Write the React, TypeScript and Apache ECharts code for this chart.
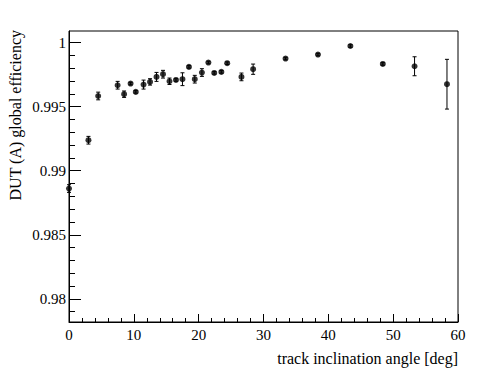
import React, { useEffect, useRef } from "react";
import * as echarts from "echarts";

const angles = [0, 3.0, 4.5, 7.5, 8.5, 9.5, 10.3, 11.5, 12.5, 13.5, 14.5, 15.5, 16.5, 17.5, 18.5, 19.4, 20.5, 21.5, 22.4, 23.5, 24.4, 26.6, 28.4, 33.4, 38.4, 43.4, 48.4, 53.3, 58.3];
const efficiency = [0.98861, 0.99238, 0.99583, 0.99667, 0.99597, 0.9968, 0.99615, 0.99672, 0.99693, 0.99732, 0.99753, 0.99698, 0.99708, 0.99714, 0.9981, 0.99714, 0.99766, 0.99844, 0.99763, 0.99771, 0.99839, 0.99732, 0.99792, 0.99875, 0.99906, 0.99973, 0.99833, 0.99815, 0.99675];
const errors = [0.0003, 0.0003, 0.0003, 0.0003, 0.00025, 0.0001, 0.0001, 0.00035, 0.00025, 0.00035, 0.0003, 0.00025, 0.0001, 0.0005, 0.0001, 0.0003, 0.0003, 0.0001, 0.0001, 0.0001, 0.0001, 0.0003, 0.0004, 0.0001, 0.0001, 0.0001, 0.0001, 0.00074, 0.00194];

const yMajorTicks = [0.98, 0.985, 0.99, 0.995, 1.0];
const yMinorTicks = [0.979, 0.981, 0.982, 0.983, 0.984, 0.986, 0.987, 0.988, 0.989, 0.991, 0.992, 0.993, 0.994, 0.996, 0.997, 0.998, 0.999];

const xTitle = "track inclination angle [deg]";
const yTitle = "DUT (A) global efficiency";

const FONT = "Liberation Serif";
const Y_MIN = 0.9782;
const Y_MAX = 1.0009;

export default function App() {
  const ref = useRef<HTMLDivElement>(null);
  useEffect(() => {
    if (!ref.current) return;
    const chart = echarts.init(ref.current, undefined, { renderer: "svg" });
    const points = angles.map((a, i) => [a, efficiency[i]]);
    const bars = angles.map((a, i) => [a, efficiency[i] - errors[i], efficiency[i] + errors[i]]);
    chart.setOption({
      animation: false,
      textStyle: { fontFamily: FONT },
      grid: {
        left: 69,
        right: 40,
        top: 31,
        bottom: 52,
        show: true,
        borderColor: "#000",
        borderWidth: 1,
      },
      xAxis: {
        type: "value",
        min: 0,
        max: 60,
        interval: 10,
        axisLine: { show: true, lineStyle: { color: "#000", width: 1 } },
        axisTick: { show: true, inside: true, length: 8, lineStyle: { color: "#000" } },
        minorTick: { show: true, splitNumber: 5, length: 4, lineStyle: { color: "#000" } },
        splitLine: { show: false },
        axisLabel: { color: "#000", fontFamily: FONT, fontSize: 15, margin: 5 },
      },
      yAxis: [
        {
          type: "value",
          min: Y_MIN,
          max: Y_MAX,
          position: "left",
          axisLine: { show: true, lineStyle: { color: "#000", width: 1 } },
          axisTick: { show: true, inside: true, length: 12, customValues: yMajorTicks, lineStyle: { color: "#000" } },
          splitLine: { show: false },
          axisLabel: {
            color: "#000",
            fontFamily: FONT,
            fontSize: 15,
            margin: 3,
            customValues: yMajorTicks,
            formatter: (v: number) => String(+v.toFixed(3)),
          },
        },
        {
          type: "value",
          min: Y_MIN,
          max: Y_MAX,
          position: "left",
          axisLine: { show: false },
          axisTick: { show: true, inside: true, length: 6, customValues: yMinorTicks, lineStyle: { color: "#000" } },
          splitLine: { show: false },
          axisLabel: { show: false },
        },
      ],
      series: [
        {
          type: "custom",
          xAxisIndex: 0,
          yAxisIndex: 0,
          clip: false,
          data: bars,
          renderItem: (params: any, api: any) => {
            const x = api.value(0);
            const lo = api.coord([x, api.value(1)]);
            const hi = api.coord([x, api.value(2)]);
            const cap = 2;
            const style = { stroke: "#000", lineWidth: 1 };
            return {
              type: "group",
              children: [
                { type: "line", shape: { x1: lo[0], y1: lo[1], x2: hi[0], y2: hi[1] }, style },
                { type: "line", shape: { x1: lo[0] - cap, y1: lo[1], x2: lo[0] + cap, y2: lo[1] }, style },
                { type: "line", shape: { x1: hi[0] - cap, y1: hi[1], x2: hi[0] + cap, y2: hi[1] }, style },
              ],
            };
          },
        },
        {
          type: "scatter",
          xAxisIndex: 0,
          yAxisIndex: 0,
          clip: false,
          symbol: "circle",
          symbolSize: 6,
          itemStyle: { color: "#000" },
          data: points,
        },
      ],
      graphic: [
        {
          type: "text",
          x: 458,
          y: 358,
          style: {
            text: xTitle,
            fontFamily: FONT,
            fontSize: 16,
            fill: "#000",
            align: "right",
            verticalAlign: "middle",
          },
        },
        {
          type: "text",
          x: 15,
          y: 30,
          rotation: Math.PI / 2,
          style: {
            text: yTitle,
            fontFamily: FONT,
            fontSize: 16,
            fill: "#000",
            align: "right",
            verticalAlign: "middle",
          },
        },
      ],
    });
    return () => chart.dispose();
  }, []);
  return <div ref={ref} style={{ width: 498, height: 374, position: "absolute", left: 0, top: 0 }} />;
}
